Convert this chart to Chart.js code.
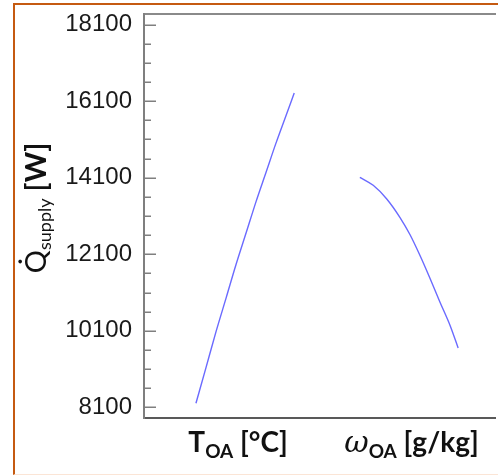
<!DOCTYPE html>
<html><head><meta charset="utf-8">
<script src="https://cdn.jsdelivr.net/npm/chart.js@4"></script>
<style>
html,body{margin:0;padding:0;background:#fff;}
#wrap{position:relative;width:498px;height:475px;overflow:hidden;}
#frame{position:absolute;left:13px;top:3px;right:-6px;bottom:0px;border-left:2px solid #c55a11;border-top:2px solid #c55a11;border-bottom:1px solid #fbe5d6;pointer-events:none;}
canvas{position:absolute;left:0;top:0;}
</style></head><body>
<div id="wrap"><canvas id="c" width="498" height="475"></canvas><div id="frame"></div></div>
<script>
// Series 1: Q_supply vs outdoor-air temperature (horizontal position on a 0-100 track)
const tOAPos = [14.8, 17.7, 20.5, 23.4, 26.2, 29.1, 31.9, 34.8, 37.6, 40.5, 42.8];
const tOAQ   = [8205, 9150, 10070, 10960, 11825, 12660, 13470, 14250, 15005, 15735, 16315];
// Series 2: Q_supply vs outdoor-air humidity ratio
const wOAPos = [61.5, 65.3, 69.1, 72.9, 75.8, 78.6, 81.5, 84.3, 87.2, 89.5];
const wOAQ   = [14112, 13902, 13552, 13066, 12609, 12073, 11466, 10852, 10238, 9650];
// Y ticks
const yMajorTicks = [8100, 10100, 12100, 14100, 16100, 18100];
const yAllTicks = [8100, 8600, 9100, 9600, 10100, 10600, 11100, 11600, 12100, 12600, 13100, 13600,
                   14100, 14600, 15100, 15600, 16100, 16600, 17100, 17600, 18100];
const yMin = 7820, yMax = 18380;
// Axis captions
const xCaptionPos = [26.8, 76.2];

function drawRich(ctx, parts, cx, baseY) {
  let total = 0;
  parts.forEach(p => { ctx.font = p.font; p.w = ctx.measureText(p.t).width; total += p.w; });
  let x = cx - total / 2;
  ctx.textAlign = 'left';
  ctx.textBaseline = 'alphabetic';
  parts.forEach(p => { ctx.font = p.font; ctx.fillText(p.t, x, baseY + (p.dy || 0)); x += p.w; });
}

const decor = {
  id: 'decor',
  afterDraw(chart) {
    const ctx = chart.ctx, y = chart.scales.y, xs = chart.scales.x;
    const x0 = chart.chartArea.left;
    ctx.save();
    ctx.strokeStyle = '#7f7f7f';
    ctx.lineWidth = 1.5;
    yAllTicks.forEach(v => {
      const py = Math.round(y.getPixelForValue(v)) + 0.25;
      const len = yMajorTicks.includes(v) ? 12 : 7;
      ctx.beginPath(); ctx.moveTo(x0, py); ctx.lineTo(x0 + len, py); ctx.stroke();
    });
    ctx.fillStyle = '#111';
    const B = 'bold 28px Lato', S = 'bold 19px Lato';
    drawRich(ctx, [{t:'T', font:B}, {t:'OA', font:S, dy:6}, {t:' [°C]', font:B}],
             xs.getPixelForValue(xCaptionPos[0]), 452);
    drawRich(ctx, [{t:'\u03C9', font:'italic 30px "DejaVu Serif"'}, {t:'OA', font:S, dy:6}, {t:' [g/kg]', font:B}],
             xs.getPixelForValue(xCaptionPos[1]), 452);
    // Y title (rotated)
    ctx.translate(46, 208);
    ctx.rotate(-Math.PI / 2);
    drawRich(ctx, [{t:'Q\u0307', font:'29px Lato'}, {t:'supply', font:'18px Lato', dy:5}, {t:' [W]', font:'bold 29px Lato'}], 0, 0);
    ctx.restore();
  }
};

const lineStyle = {borderColor:'#6a6aff', borderWidth:1.4, pointRadius:0, cubicInterpolationMode:'monotone', fill:false};

new Chart(document.getElementById('c'), {
  type: 'line',
  data: {
    datasets: [
      Object.assign({label:'T_OA', data: tOAPos.map((x, i) => ({x, y: tOAQ[i]}))}, lineStyle),
      Object.assign({label:'w_OA', data: wOAPos.map((x, i) => ({x, y: wOAQ[i]}))}, lineStyle)
    ]
  },
  options: {
    responsive: false,
    animation: false,
    layout: {padding: {top: 14, right: 3, bottom: 0, left: 0}},
    plugins: {legend: {display: false}, tooltip: {enabled: false}},
    scales: {
      x: {
        type: 'linear', min: 0, max: 100, position: 'bottom',
        afterFit: s => { s.height = 57; s.paddingLeft = 0; s.paddingRight = 0; },
        ticks: {display: false},
        grid: {display: true, drawOnChartArea: false, drawTicks: false},
        border: {display: true, color: '#595959', width: 2}
      },
      x2: {
        type: 'linear', min: 0, max: 100, position: 'top',
        afterFit: s => { s.height = 0; s.paddingLeft = 0; s.paddingRight = 0; },
        ticks: {display: false},
        grid: {display: true, drawOnChartArea: false, drawTicks: false},
        border: {display: true, color: '#8a8a8a', width: 2}
      },
      y: {
        type: 'linear', min: yMin, max: yMax, position: 'left',
        afterBuildTicks: s => { s.ticks = yAllTicks.map(v => ({value: v})); },
        afterFit: s => { s.width = 144; s.paddingTop = 0; s.paddingBottom = 0; },
        grid: {display: true, drawOnChartArea: false, drawTicks: false},
        border: {display: true, color: '#7f7f7f', width: 2},
        ticks: {
          autoSkip: false, padding: 12, color: '#1a1a1a',
          font: {family: '"Liberation Sans", Arial, sans-serif', size: 24},
          callback: v => yMajorTicks.includes(v) ? String(v) : ''
        }
      }
    }
  },
  plugins: [decor]
});
</script>
</body></html>
